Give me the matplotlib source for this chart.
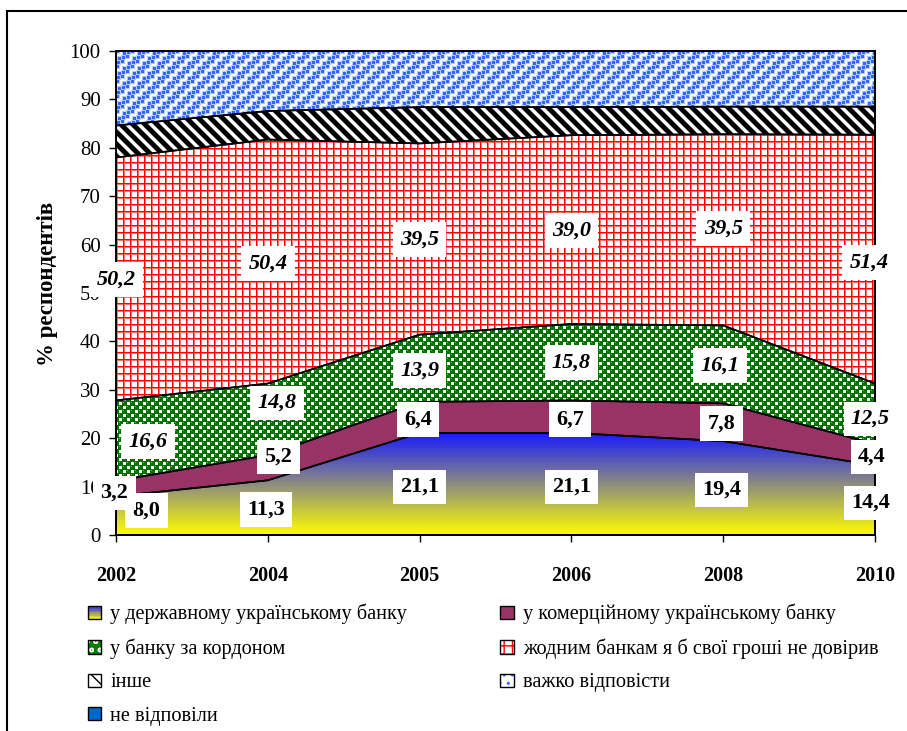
import numpy as np
import matplotlib
matplotlib.use('Agg')
import matplotlib.pyplot as plt
from matplotlib.patches import Rectangle, Patch
from matplotlib.lines import Line2D
from matplotlib.legend_handler import HandlerBase

plt.rcParams['font.family'] = ['Liberation Serif', 'DejaVu Serif']

# data (% of respondents)
years = ['2002', '2004', '2005', '2006', '2008', '2010']
state_bank = [8.0, 11.3, 21.1, 21.1, 19.4, 14.4]
commercial_bank = [3.2, 5.2, 6.4, 6.7, 7.8, 4.4]
foreign_bank = [16.6, 14.8, 13.9, 15.8, 16.1, 12.5]
no_bank = [50.2, 50.4, 39.5, 39.0, 39.5, 51.4]
other = [6.6, 5.9, 7.5, 5.8, 5.7, 5.8]
hard_to_say = [15.4, 12.4, 11.6, 11.6, 11.5, 11.5]
no_answer = [0, 0, 0, 0, 0, 0]

names = ['у державному українському банку',
         'у комерційному українському банку',
         'у банку за кордоном',
         'жодним банкам я б свої гроші не довірив',
         'інше',
         'важко відповісти',
         'не відповіли']

# where the value labels sit (category index, y)
lbl_state = [(0.2, 5.0), (0.99, 5.2), (2.0, 9.9), (3.0, 9.9), (3.99, 9.3), (4.97, 6.6)]
lbl_comm = [(-0.01, 8.7), (1.07, 16.1), (1.99, 23.8), (2.99, 23.8), (3.99, 23.0), (4.98, 16.1)]
lbl_foreign = [(0.21, 19.3), (1.06, 27.3), (2.0, 34.0), (3.0, 35.6), (3.98, 35.0), (4.97, 24.0)]
lbl_nobank = [(0.0, 52.8), (1.0, 56.1), (2.0, 61.1), (3.0, 62.9), (4.0, 63.3), (4.96, 56.3)]

W_IN, H_IN, DPI = 9.07, 7.31, 100
fig = plt.figure(figsize=(W_IN, H_IN), dpi=DPI)
ax_rect = [116 / 907, 1 - 535 / 731, (875 - 116) / 907, (535 - 51) / 731]
ax = fig.add_axes(ax_rect)

x = np.arange(len(years))
ax.set_xlim(0, len(years) - 1)
ax.set_ylim(0, 100)

# texture canvas in pixels of the axes
W = int(round(ax_rect[2] * W_IN * DPI))
H = int(round(ax_rect[3] * H_IN * DPI))
yy, xx = np.mgrid[0:H, 0:W]


def tex_gradient(top_val):
    v = 100 * (1 - (yy + 0.5) / H)
    t = np.clip(v / top_val, 0, 1)[..., None]
    yellow = np.array([1.0, 1.0, 0.0])
    blue = np.array([0.1, 0.1, 1.0])
    return yellow * (1 - t) + blue * t


def tex_solid(c):
    img = np.ones((H, W, 3))
    img[:] = matplotlib.colors.to_rgb(c)
    return img


def tex_balls():
    img = np.ones((H, W, 3))
    P = 8
    for ox in (0, 4):
        dx = (xx + ox) % P - 4
        dy = (yy + ox) % P - 4
        d = np.hypot(dx, dy)
        img[d < 3.0] = (0.0, 0.45, 0.0)
        hl = np.hypot(dx + 1, dy + 1) < 1.0
        img[hl] = (0.4, 0.75, 0.4)
    return img


def tex_grid():
    img = np.ones((H, W, 3))
    img[(xx % 7 == 1) | (yy % 7 == 1)] = (1.0, 0.45, 0.45)
    img[(xx % 7 == 0) | (yy % 7 == 0)] = (1.0, 0.0, 0.0)
    return img


def tex_stripes():
    img = np.ones((H, W, 3))
    s = (xx - yy) % 12
    img[(s < 6)] = (0, 0, 0)
    img[(s == 6) | (s == 11)] = (0.5, 0.5, 0.5)
    return img


def tex_dots():
    img = np.ones((H, W, 3))
    P = 5
    i, j = xx // P, yy // P
    ox = (i * 2 + j * 5) % 3
    oy = (i * 5 + j * 2) % 3
    rx = xx % P - ox
    ry = yy % P - oy
    edge = (rx >= -1) & (rx <= 3) & (ry >= -1) & (ry <= 3)
    img[edge] = (0.72, 0.8, 1.0)
    core = (rx >= 0) & (rx <= 2) & (ry >= 0) & (ry <= 2)
    img[core] = (0.2, 0.4, 1.0)
    return img


series = [state_bank, commercial_bank, foreign_bank, no_bank, other, hard_to_say, no_answer]
textures = [tex_gradient(max(state_bank)), tex_solid('#993366'), tex_balls(), tex_grid(),
            tex_stripes(), tex_dots(), tex_solid('#0066CC')]

bottom = np.zeros(len(years))
for vals, tex in zip(series, textures):
    top = bottom + np.array(vals, dtype=float)
    if np.any(top > bottom):
        poly = ax.fill_between(x, bottom, top, facecolor='none', edgecolor='black',
                               linewidth=1.2, zorder=3)
        im = ax.imshow(tex, extent=(0, len(years) - 1, 0, 100), origin='upper',
                       aspect='auto', interpolation='nearest', zorder=1)
        im.set_clip_path(poly.get_paths()[0], poly.get_transform())
    bottom = top

# value labels
box = dict(boxstyle='square,pad=0.33', facecolor='white', edgecolor='none')
for vals, pos, style in [(state_bank, lbl_state, 'normal'),
                         (commercial_bank, lbl_comm, 'normal'),
                         (foreign_bank, lbl_foreign, 'italic'),
                         (no_bank, lbl_nobank, 'italic')]:
    for v, (px, py) in zip(vals, pos):
        ax.text(px, py, f'{v:.1f}'.replace('.', ','), ha='center', va='center',
                fontsize=16, fontweight='bold', fontstyle=style, bbox=box,
                zorder=6, clip_on=False)

ax.set_xticks(x)
ax.set_xticklabels(years, fontweight='bold', fontsize=14.5)
ax.set_yticks(np.arange(0, 101, 10))
ax.tick_params(axis='y', direction='out', length=5, width=1, labelsize=15, pad=6)
ax.tick_params(axis='x', direction='out', length=5, width=1, pad=17)
for sp in ax.spines.values():
    sp.set_linewidth(1.4)
    sp.set_zorder(5)
ax.set_ylabel('% респондентів', fontsize=16.5, fontweight='bold')
ax.yaxis.set_label_coords(-0.076, 0.519)


# legend swatches
class Swatch(HandlerBase):
    def create_artists(self, legend, orig_handle, xdescent, ydescent, width, height,
                       fontsize, trans):
        kind = orig_handle.kind
        s = min(width, height)
        x0, y0 = -xdescent + (width - s) / 2, -ydescent + (height - s) / 2
        arts = []
        if kind == 'grad':
            n = 8
            for k in range(n):
                t = (k + 0.5) / n
                c = (1 - t) * np.array([1, 1, 0]) + t * np.array([0.1, 0.1, 1])
                arts.append(Rectangle((x0, y0 + s * k / n), s, s / n, facecolor=c,
                                      edgecolor='none', transform=trans))
        else:
            fc, hc, hatch = orig_handle.spec
            arts.append(Rectangle((x0, y0), s, s, facecolor=fc, edgecolor=hc,
                                  hatch=hatch, linewidth=0, transform=trans))
        arts.append(Rectangle((x0, y0), s, s, facecolor='none', edgecolor='black',
                              linewidth=1.0, transform=trans))
        return arts


specs = ['grad', ('#993366', '#993366', None), ('#008000', 'white', 'oo'),
         ('white', 'red', '++'), ('white', 'black', '\\\\'), ('white', '#3366FF', '..'),
         ('#0066CC', '#0066CC', None)]
handles = []
for name, sp in zip(names, specs):
    h = Patch(label=name)
    h.kind = 'grad' if sp == 'grad' else 'pat'
    h.spec = None if sp == 'grad' else sp
    handles.append(h)

# column-major order so rows read: state/commercial, foreign/none, other/hard, no answer
order = [0, 2, 4, 6, 1, 3, 5]
leg = fig.legend([handles[i] for i in order], [names[i] for i in order],
                 handler_map={Patch: Swatch()}, ncol=2, loc='upper left',
                 bbox_to_anchor=(88 / 907, 1 - 604 / 731), frameon=False,
                 fontsize=14.6, handlelength=0.65, handleheight=0.65, handletextpad=0.45,
                 labelspacing=0.7, columnspacing=4.6, borderaxespad=0, borderpad=0)

# outer frame (only left and top edges are inside the picture)
fig.add_artist(Line2D([7 / 907, 7 / 907], [0, 1 - 11 / 731], transform=fig.transFigure,
                      color='black', linewidth=1.5))
fig.add_artist(Line2D([7 / 907, 1], [1 - 11 / 731, 1 - 11 / 731], transform=fig.transFigure,
                      color='black', linewidth=1.5))

fig.savefig('out.png', dpi=DPI)
